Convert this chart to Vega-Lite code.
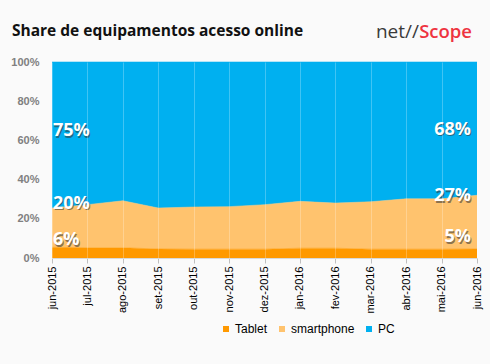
{
  "$schema": "https://vega.github.io/schema/vega-lite/v6.json",
  "autosize": {"type": "none"},
  "width": 425,
  "height": 196,
  "padding": {"left": 52, "top": 62, "right": 13, "bottom": 106},
  "background": "#fafafa",
  "config": {
    "view": {"stroke": null},
    "font": "Liberation Sans"
  },
  "datasets": {
    "share": [
      {"mes": "jun-2015", "serie": "Tablet", "valor": 5.5},
      {"mes": "jun-2015", "serie": "smartphone", "valor": 20.0},
      {"mes": "jun-2015", "serie": "PC", "valor": 74.5},
      {"mes": "jul-2015", "serie": "Tablet", "valor": 5.2},
      {"mes": "jul-2015", "serie": "smartphone", "valor": 22.0},
      {"mes": "jul-2015", "serie": "PC", "valor": 72.8},
      {"mes": "ago-2015", "serie": "Tablet", "valor": 5.2},
      {"mes": "ago-2015", "serie": "smartphone", "valor": 24.0},
      {"mes": "ago-2015", "serie": "PC", "valor": 70.8},
      {"mes": "set-2015", "serie": "Tablet", "valor": 4.6},
      {"mes": "set-2015", "serie": "smartphone", "valor": 20.9},
      {"mes": "set-2015", "serie": "PC", "valor": 74.5},
      {"mes": "out-2015", "serie": "Tablet", "valor": 4.5},
      {"mes": "out-2015", "serie": "smartphone", "valor": 21.5},
      {"mes": "out-2015", "serie": "PC", "valor": 74.0},
      {"mes": "nov-2015", "serie": "Tablet", "valor": 4.5},
      {"mes": "nov-2015", "serie": "smartphone", "valor": 21.7},
      {"mes": "nov-2015", "serie": "PC", "valor": 73.8},
      {"mes": "dez-2015", "serie": "Tablet", "valor": 4.5},
      {"mes": "dez-2015", "serie": "smartphone", "valor": 22.7},
      {"mes": "dez-2015", "serie": "PC", "valor": 72.8},
      {"mes": "jan-2016", "serie": "Tablet", "valor": 5.0},
      {"mes": "jan-2016", "serie": "smartphone", "valor": 23.9},
      {"mes": "jan-2016", "serie": "PC", "valor": 71.1},
      {"mes": "fev-2016", "serie": "Tablet", "valor": 5.0},
      {"mes": "fev-2016", "serie": "smartphone", "valor": 23.0},
      {"mes": "fev-2016", "serie": "PC", "valor": 72.0},
      {"mes": "mar-2016", "serie": "Tablet", "valor": 4.5},
      {"mes": "mar-2016", "serie": "smartphone", "valor": 24.2},
      {"mes": "mar-2016", "serie": "PC", "valor": 71.3},
      {"mes": "abr-2016", "serie": "Tablet", "valor": 4.5},
      {"mes": "abr-2016", "serie": "smartphone", "valor": 25.7},
      {"mes": "abr-2016", "serie": "PC", "valor": 69.8},
      {"mes": "mai-2016", "serie": "Tablet", "valor": 4.5},
      {"mes": "mai-2016", "serie": "smartphone", "valor": 25.7},
      {"mes": "mai-2016", "serie": "PC", "valor": 69.8},
      {"mes": "jun-2016", "serie": "Tablet", "valor": 4.6},
      {"mes": "jun-2016", "serie": "smartphone", "valor": 27.4},
      {"mes": "jun-2016", "serie": "PC", "valor": 68.0}
    ],
    "rotulos": [
      {"mes": "jun-2015", "nivel": 0.646, "texto": "75%", "lado": "esq"},
      {"mes": "jun-2015", "nivel": 0.277, "texto": "20%", "lado": "esq"},
      {"mes": "jun-2015", "nivel": 0.09, "texto": "6%", "lado": "esq"},
      {"mes": "jun-2016", "nivel": 0.655, "texto": "68%", "lado": "dir"},
      {"mes": "jun-2016", "nivel": 0.314, "texto": "27%", "lado": "dir"},
      {"mes": "jun-2016", "nivel": 0.105, "texto": "5%", "lado": "dir"}
    ]
  },
  "layer": [
    {
      "data": {"name": "share"},
      "transform": [
        {"calculate": "indexof(['Tablet','smartphone','PC'], datum.serie)", "as": "ordem"}
      ],
      "mark": {"type": "area", "opacity": 1, "line": {"color": "#ffffff", "strokeWidth": 1, "opacity": 0.55}},
      "encoding": {
        "x": {
          "field": "mes",
          "type": "ordinal",
          "scale": {
            "type": "point",
            "padding": 0,
            "domain": ["jun-2015", "jul-2015", "ago-2015", "set-2015", "out-2015", "nov-2015", "dez-2015", "jan-2016", "fev-2016", "mar-2016", "abr-2016", "mai-2016", "jun-2016"]
          },
          "axis": {
            "title": null,
            "labelAngle": -90,
            "labelFont": "Liberation Sans",
            "labelFontSize": 11,
            "labelColor": "#000000",
            "labelPadding": 3,
            "labelOverlap": false,
            "tickColor": "#bfbfbf",
            "tickSize": 5,
            "domainColor": "#d9d9d9",
            "grid": true,
            "gridColor": "#ffffff",
            "gridOpacity": 0.25,
            "zindex": 1
          }
        },
        "y": {
          "field": "valor",
          "type": "quantitative",
          "stack": "normalize",
          "scale": {"domain": [0, 1], "nice": false},
          "axis": {
            "title": null,
            "tickCount": 5,
            "labelExpr": "format(datum.value, '.0%')",
            "labelFont": "Liberation Sans",
            "labelColor": "#808080",
            "labelFontWeight": "bold",
            "labelFontSize": 11,
            "labelOverlap": false,
            "ticks": false,
            "domain": false,
            "grid": false,
            "labelPadding": 13
          }
        },
        "color": {
          "field": "serie",
          "type": "nominal",
          "scale": {"domain": ["Tablet", "smartphone", "PC"], "range": ["#FF9900", "#FFC36E", "#00B0F0"]},
          "legend": {
            "title": null,
            "orient": "none",
            "legendX": 168,
            "legendY": 261,
            "direction": "horizontal",
            "symbolType": "square",
            "symbolSize": 36,
            "symbolStrokeWidth": 0,
            "symbolOpacity": 1,
            "labelFont": "Liberation Sans",
            "labelFontSize": 12,
            "labelColor": "#000000",
            "labelOffset": 3,
            "columnPadding": 8
          }
        },
        "order": {"field": "ordem", "type": "quantitative", "sort": "ascending"}
      }
    },
    {
      "data": {"name": "rotulos"},
      "transform": [{"filter": "datum.lado == 'esq'"}],
      "mark": {"type": "text", "align": "left", "baseline": "middle", "font": "Open Sans", "fontSize": 18, "fontWeight": "bold", "color": "#333333", "opacity": 0.55, "dx": 2, "dy": 1.5},
      "encoding": {
        "x": {"field": "mes", "type": "ordinal"},
        "y": {"field": "nivel", "type": "quantitative"},
        "text": {"field": "texto"}
      }
    },
    {
      "data": {"name": "rotulos"},
      "transform": [{"filter": "datum.lado == 'esq'"}],
      "mark": {"type": "text", "align": "left", "baseline": "middle", "font": "Open Sans", "fontSize": 18, "fontWeight": "bold", "color": "#ffffff", "dx": 1},
      "encoding": {
        "x": {"field": "mes", "type": "ordinal"},
        "y": {"field": "nivel", "type": "quantitative"},
        "text": {"field": "texto"}
      }
    },
    {
      "data": {"name": "rotulos"},
      "transform": [{"filter": "datum.lado == 'dir'"}],
      "mark": {"type": "text", "align": "right", "baseline": "middle", "font": "Open Sans", "fontSize": 18, "fontWeight": "bold", "color": "#333333", "opacity": 0.55, "dx": -5, "dy": 1.5},
      "encoding": {
        "x": {"field": "mes", "type": "ordinal"},
        "y": {"field": "nivel", "type": "quantitative"},
        "text": {"field": "texto"}
      }
    },
    {
      "data": {"name": "rotulos"},
      "transform": [{"filter": "datum.lado == 'dir'"}],
      "mark": {"type": "text", "align": "right", "baseline": "middle", "font": "Open Sans", "fontSize": 18, "fontWeight": "bold", "color": "#ffffff", "dx": -6},
      "encoding": {
        "x": {"field": "mes", "type": "ordinal"},
        "y": {"field": "nivel", "type": "quantitative"},
        "text": {"field": "texto"}
      }
    },
    {
      "data": {"values": [{"parte": "Share de equipamentos acesso online"}]},
      "mark": {"type": "text", "align": "left", "baseline": "alphabetic", "font": "Open Sans", "fontSize": 15.5, "fontWeight": "bold", "color": "#111111", "dx": -40},
      "encoding": {
        "x": {"datum": "jun-2015", "type": "ordinal"},
        "y": {"datum": 1.135, "type": "quantitative"},
        "text": {"field": "parte"}
      }
    },
    {
      "data": {"values": [{"parte": "net//"}]},
      "mark": {"type": "text", "align": "right", "baseline": "alphabetic", "font": "Open Sans", "fontSize": 19, "color": "#3a3a3a", "dx": -58},
      "encoding": {
        "x": {"datum": "jun-2016", "type": "ordinal"},
        "y": {"datum": 1.125, "type": "quantitative"},
        "text": {"field": "parte"}
      }
    },
    {
      "data": {"values": [{"parte": "Scope"}]},
      "mark": {"type": "text", "align": "right", "baseline": "alphabetic", "font": "Open Sans", "fontSize": 18.5, "fontWeight": 600, "color": "#EE3340", "dx": -5},
      "encoding": {
        "x": {"datum": "jun-2016", "type": "ordinal"},
        "y": {"datum": 1.125, "type": "quantitative"},
        "text": {"field": "parte"}
      }
    }
  ]
}
